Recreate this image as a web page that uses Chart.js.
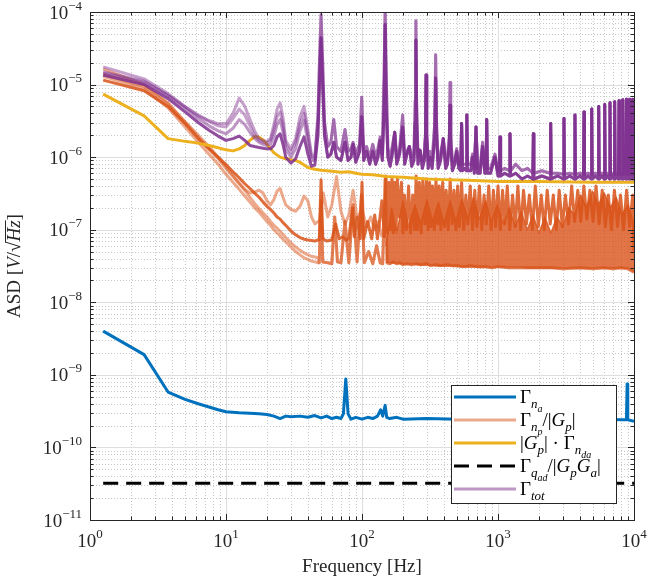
<!DOCTYPE html>
<html>
<head>
<meta charset="utf-8">
<script src="https://cdn.jsdelivr.net/npm/chart.js@4.4.1/dist/chart.umd.min.js"></script>
<style>
  html, body { margin: 0; padding: 0; background: #fff; }
  canvas { display: block; }
</style>
</head>
<body>
<canvas id="asd" width="648" height="582"></canvas>
<script>
// ---- data (Hz, V/sqrt(Hz)) ----
const freqLo = [1.25, 2.5, 3.75, 5, 6.25, 7.5, 8.75, 10, 11.25, 12.5,
  13.75, 15, 16.25, 17.5, 18.75, 20, 21.25, 22.5, 23.75, 25,
  26.25, 27.5, 30, 32.5, 35, 37.5, 40, 42.5, 45, 47.5];

// Gamma_na (blue)
const freqNa = [1.25, 2.5, 3.75, 5, 6.25, 7.5, 8.75, 10, 12.5, 15,
  17.5, 20, 22.5, 25, 27.5, 30, 35, 40, 45, 50,
  55, 60, 65, 70, 73, 76, 79, 83, 90, 100,
  110, 120, 130, 137, 142, 148, 152, 160, 180, 200,
  300, 500, 1000, 2000, 4000, 8000, 8800, 8900, 9000, 10000];
const gammaNa = [4.0e-9, 1.9e-9, 5.8e-10, 4.6e-10, 4.0e-10, 3.6e-10, 3.3e-10, 3.1e-10, 3.0e-10, 2.95e-10,
  2.9e-10, 2.85e-10, 2.7e-10, 2.5e-10, 2.7e-10, 2.65e-10, 2.7e-10, 2.6e-10, 2.75e-10, 2.55e-10,
  2.7e-10, 2.5e-10, 2.6e-10, 2.5e-10, 2.9e-10, 8.8e-10, 2.9e-10, 2.45e-10, 2.6e-10, 2.45e-10,
  2.6e-10, 2.5e-10, 2.7e-10, 3.3e-10, 2.7e-10, 3.8e-10, 2.6e-10, 2.5e-10, 2.6e-10, 2.45e-10,
  2.5e-10, 2.45e-10, 2.5e-10, 2.4e-10, 2.45e-10, 2.4e-10, 2.4e-10, 7.5e-10, 2.4e-10, 2.3e-10];

// |Gp| * Gamma_nda (yellow)
const freqNda = [1.25, 2.5, 3.75, 5, 6.25, 7.5, 8.75, 10, 11.25, 12.5,
  13.75, 15, 16.25, 17.5, 18.75, 20, 22.5, 25, 27.5, 30,
  32.5, 35, 37.5, 40, 45, 50, 60, 70, 80, 90,
  100, 120, 150, 200, 300, 400, 600, 1000, 2000, 5000, 10000];
const gammaNda = [7.4e-6, 3.7e-6, 1.8e-6, 1.65e-6, 1.56e-6, 1.45e-6, 1.35e-6, 1.26e-6, 1.22e-6, 1.3e-6,
  1.45e-6, 1.7e-6, 1.92e-6, 1.88e-6, 1.72e-6, 1.5e-6, 1.15e-6, 1.0e-6, 9.5e-7, 9.2e-7,
  9.0e-7, 8.5e-7, 7.8e-7, 7.2e-7, 6.8e-7, 6.6e-7, 6.4e-7, 6.2e-7, 6.3e-7, 6.0e-7,
  5.8e-7, 5.7e-7, 5.4e-7, 5.3e-7, 5.0e-7, 4.9e-7, 4.8e-7, 4.6e-7, 4.6e-7, 4.5e-7, 4.5e-7];

// Gamma_qad / |Gp Ga| (black dashed)
const freqQad = [1.25, 10000];
const gammaQad = [3.2e-11, 3.2e-11];

// Gamma_np / |Gp| (orange) - low frequency part, four measurements
const npLo1 = [1.15e-5, 8.2e-6, 5.0e-6, 2.9e-6, 1.8e-6, 1.3e-6, 1.0e-6, 7.9e-7, 6.3e-7, 5.2e-7,
  4.3e-7, 3.7e-7, 3.2e-7, 2.8e-7, 2.4e-7, 2.1e-7, 1.9e-7, 1.7e-7, 1.5e-7, 1.4e-7,
  1.25e-7, 1.15e-7, 9.6e-8, 8.5e-8, 7.8e-8, 7.4e-8, 7.2e-8, 7.1e-8, 7.0e-8, 7.2e-8];
const npLo2 = [1.3e-5, 8.8e-6, 4.8e-6, 2.6e-6, 1.6e-6, 1.1e-6, 8e-7, 5.8e-7, 4.5e-7, 3.6e-7,
  2.9e-7, 2.4e-7, 2.0e-7, 1.75e-7, 1.5e-7, 1.3e-7, 1.15e-7, 1.0e-7, 9e-8, 8.2e-8,
  7.4e-8, 6.8e-8, 5.8e-8, 5e-8, 4.5e-8, 4.1e-8, 3.9e-8, 3.7e-8, 3.6e-8, 3.5e-8];
const npLo3 = [1.65e-5, 1.0e-5, 5.6e-6, 3.0e-6, 1.9e-6, 1.3e-6, 9.5e-7, 7e-7, 5.4e-7, 4.3e-7,
  3.6e-7, 3.2e-7, 3.3e-7, 3.5e-7, 3.2e-7, 2.5e-7, 2.2e-7, 2.6e-7, 3.4e-7, 3.7e-7,
  2.8e-7, 2.2e-7, 1.9e-7, 1.8e-7, 2.1e-7, 2.9e-7, 2.5e-7, 1.5e-7, 1.2e-7, 1.3e-7];
const npLo4 = [1.4e-5, 9.5e-6, 5.4e-6, 3.1e-6, 2.0e-6, 1.4e-6, 1.0e-6, 7.4e-7, 5.6e-7, 4.4e-7,
  3.5e-7, 2.8e-7, 2.3e-7, 1.95e-7, 1.7e-7, 1.5e-7, 1.3e-7, 1.15e-7, 1.05e-7, 9.5e-8,
  8.6e-8, 7.8e-8, 6.6e-8, 5.8e-8, 5.2e-8, 4.8e-8, 4.5e-8, 4.3e-8, 4.2e-8, 4.1e-8];

// orange - high frequency parts
const freqNpA = [48.5, 50, 51.5, 55, 60, 64, 68, 72, 76, 80,
  85, 88, 92, 97, 100, 103, 110, 118, 124, 130,
  140, 146, 150, 154, 158, 162, 166, 170, 174, 178,
  182, 188, 195, 200, 205, 212, 220, 228, 236, 244,
  250, 256, 264, 272, 280, 290, 298, 306, 314, 322,
  330, 340, 350, 360, 370, 380, 392, 404, 416, 430,
  445, 460, 475, 490, 505, 520, 540, 560, 580, 600,
  625, 650, 675, 700, 730, 760, 790, 820, 855, 890,
  925, 960, 1000, 1040, 1080, 1120, 1170, 1220, 1280, 1340,
  1400, 1470, 1540, 1620, 1700, 1790, 1880, 1980, 2080, 2190,
  2300, 2420, 2550, 2680, 2820, 2970, 3130, 3300, 3480, 3660,
  3860, 4060, 4280, 4500, 4740, 5000, 5260, 5540, 5840, 6150,
  6480, 6820, 7180, 7560, 7960, 8380, 8820, 9290, 9780, 10000];
const npHiA = [7.2e-8, 4.9e-7, 7.5e-8, 7.0e-8, 7.2e-8, 1.2e-7, 7.5e-8, 8e-8, 7.2e-8, 7.5e-8,
  2.0e-7, 8e-8, 1.5e-7, 7.5e-8, 4.5e-7, 7.5e-8, 1.3e-7, 7.5e-8, 1.6e-7, 7.5e-8,
  2.5e-7, 8e-8, 5.5e-7, 9e-8, 4.5e-7, 1e-7, 5e-7, 9e-8, 4.5e-7, 1e-7,
  5e-7, 1.5e-7, 4.5e-7, 9e-8, 3e-7, 1e-7, 4e-7, 9e-8, 3e-7, 1e-7,
  5.5e-7, 1e-7, 4.5e-7, 9e-8, 5e-7, 1.2e-7, 5e-7, 1e-7, 4.5e-7, 1.1e-7,
  4e-7, 1e-7, 5e-7, 1.2e-7, 4e-7, 1e-7, 4.5e-7, 1.1e-7, 3.5e-7, 1e-7,
  5e-7, 1.2e-7, 3.5e-7, 1e-7, 4e-7, 1.1e-7, 4.5e-7, 1e-7, 3e-7, 1.2e-7,
  4e-7, 1e-7, 3.5e-7, 1.1e-7, 4e-7, 1e-7, 3e-7, 1.2e-7, 4e-7, 1e-7,
  3.5e-7, 1.1e-7, 4e-7, 1e-7, 3.5e-7, 1.2e-7, 4e-7, 1e-7, 3e-7, 1.1e-7,
  4e-7, 1e-7, 3.5e-7, 1.2e-7, 3e-7, 1e-7, 4e-7, 1.1e-7, 3e-7, 1e-7,
  3.5e-7, 1.2e-7, 3e-7, 1e-7, 3.5e-7, 1.1e-7, 3e-7, 1.2e-7, 4e-7, 1.3e-7,
  3.5e-7, 1.3e-7, 4e-7, 1.4e-7, 3.5e-7, 1.3e-7, 4e-7, 1.2e-7, 3.5e-7, 1.1e-7,
  3e-7, 1e-7, 3.5e-7, 1.1e-7, 3e-7, 1e-7, 3.5e-7, 1.1e-7, 3e-7, 5e-8];

const freqNpB = [48.5, 50, 51.5, 56, 60, 63, 66, 70, 75, 80,
  86, 92, 99, 104, 112, 120, 128, 136, 142, 148,
  153, 160, 170, 180, 190, 200, 215, 230, 250, 270,
  295, 320, 350, 380, 420, 460, 500, 560, 620, 700,
  800, 900, 1000, 1200, 1500, 2000, 2500, 3000, 4000, 5000,
  6000, 7000, 8000, 9000, 10000];
const npHiB = [3.5e-8, 2.5e-7, 3.6e-8, 3.5e-8, 3.4e-8, 1.5e-7, 3.6e-8, 3.5e-8, 1.3e-7, 3.5e-8,
  2.2e-7, 3.6e-8, 3.0e-7, 3.5e-8, 5e-8, 3.4e-8, 6e-8, 3.5e-8, 3.4e-8, 5e-7,
  3.5e-8, 3.4e-8, 3.6e-8, 3.4e-8, 3.5e-8, 3.3e-8, 3.4e-8, 3.3e-8, 3.4e-8, 3.3e-8,
  3.4e-8, 3.2e-8, 3.3e-8, 3.2e-8, 3.3e-8, 3.2e-8, 3.2e-8, 3.1e-8, 3.2e-8, 3.1e-8,
  3.1e-8, 3.0e-8, 3.1e-8, 3.0e-8, 3.0e-8, 3.0e-8, 3.0e-8, 2.9e-8, 3.0e-8, 2.9e-8,
  3.0e-8, 2.9e-8, 3.0e-8, 2.9e-8, 2.6e-8];

const freqNpC = [48.5, 52, 56, 60, 65, 70, 75, 80, 86, 92,
  100, 108, 116, 124, 132, 140];
const npHiC = [1.3e-7, 3.2e-7, 1.5e-7, 2.2e-7, 5.4e-7, 1.8e-7, 1.2e-7, 1.6e-7, 3.5e-7, 1.4e-7,
  1.9e-7, 1.1e-7, 1.5e-7, 1.0e-7, 1.3e-7, 8e-8];

// dense orange region: envelope of the many overlapping traces
const freqBand = [150, 165, 180, 200, 220, 245, 270, 300, 330, 365,
  400, 445, 490, 540, 600, 660, 730, 810, 890, 990,
  1100, 1210, 1340, 1480, 1640, 1810, 2000, 2210, 2450, 2710,
  3000, 3310, 3660, 4050, 4480, 4950, 5470, 6050, 6690, 7390,
  8170, 9030, 10000];
const bandTop = [6e-8, 2e-7, 9e-8, 2.5e-7, 1.1e-7, 2.2e-7, 1.2e-7, 2.6e-7, 1.3e-7, 2.4e-7,
  1.2e-7, 2.5e-7, 1.3e-7, 2.6e-7, 1.4e-7, 2.8e-7, 1.4e-7, 2.5e-7, 1.3e-7, 2.2e-7,
  1.2e-7, 2e-7, 1.1e-7, 1.8e-7, 1.0e-7, 1.6e-7, 9e-8, 1.5e-7, 9e-8, 1.5e-7,
  1.1e-7, 2e-7, 1.6e-7, 3e-7, 2e-7, 3.4e-7, 2.2e-7, 3.2e-7, 2e-7, 2.8e-7,
  1.6e-7, 2.2e-7, 1.2e-7];
const bandLow = [3.5e-8, 3.4e-8, 3.4e-8, 3.3e-8, 3.3e-8, 3.3e-8, 3.2e-8, 3.2e-8, 3.2e-8, 3.1e-8,
  3.1e-8, 3.1e-8, 3.1e-8, 3.0e-8, 3.0e-8, 3.0e-8, 3.0e-8, 3.0e-8, 3.0e-8, 3.0e-8,
  3.0e-8, 3.0e-8, 3.0e-8, 3.0e-8, 2.9e-8, 2.9e-8, 2.9e-8, 2.9e-8, 2.9e-8, 2.9e-8,
  2.9e-8, 2.9e-8, 2.9e-8, 2.9e-8, 2.9e-8, 2.9e-8, 2.9e-8, 2.9e-8, 2.9e-8, 2.9e-8,
  2.9e-8, 2.9e-8, 2.6e-8];

// Gamma_tot (purple) - low frequency part, four measurements
const totLo1 = [1.35e-5, 1.0e-5, 6.4e-6, 4.2e-6, 3.0e-6, 2.35e-6, 1.95e-6, 1.7e-6, 1.8e-6, 1.95e-6,
  1.7e-6, 1.45e-6, 1.4e-6, 1.36e-6, 1.33e-6, 1.3e-6, 1.3e-6, 1.45e-6, 1.9e-6, 2.1e-6,
  1.5e-6, 1.0e-6, 8.3e-7, 9.5e-7, 1.4e-6, 1.9e-6, 1.1e-6, 7.5e-7, 7.8e-7, 2.0e-6];
const totLo2 = [1.45e-5, 1.08e-5, 7.0e-6, 4.7e-6, 3.4e-6, 2.7e-6, 2.3e-6, 2.1e-6, 2.5e-6, 3.3e-6,
  2.8e-6, 2.2e-6, 1.8e-6, 1.6e-6, 1.5e-6, 1.45e-6, 1.5e-6, 1.9e-6, 2.8e-6, 3.3e-6,
  2.2e-6, 1.3e-6, 1.0e-6, 1.3e-6, 2.3e-6, 3.2e-6, 1.6e-6, 9e-7, 9e-7, 3e-6];
const totLo3 = [1.75e-5, 1.2e-5, 7.5e-6, 5.0e-6, 3.8e-6, 3.2e-6, 2.9e-6, 2.9e-6, 4.0e-6, 6.5e-6,
  5.0e-6, 3.3e-6, 2.3e-6, 1.8e-6, 1.7e-6, 1.65e-6, 1.8e-6, 2.8e-6, 4.6e-6, 5.6e-6,
  3.5e-6, 1.7e-6, 1.3e-6, 1.8e-6, 3.6e-6, 5.0e-6, 2.4e-6, 1.1e-6, 1.0e-6, 4e-6];
const totLo4 = [1.5e-5, 1.12e-5, 7.2e-6, 4.9e-6, 3.7e-6, 3.1e-6, 2.7e-6, 2.6e-6, 3.4e-6, 4.6e-6,
  3.8e-6, 2.7e-6, 2.0e-6, 1.7e-6, 1.6e-6, 1.55e-6, 1.7e-6, 2.4e-6, 3.6e-6, 4.2e-6,
  2.8e-6, 1.5e-6, 1.15e-6, 1.6e-6, 2.9e-6, 4.0e-6, 2.0e-6, 1.0e-6, 9.5e-7, 3.5e-6];

// purple - high frequency part (spikes)
const freqTotHi = [48.8, 50, 51.2, 53, 56, 59, 62, 65, 70, 75,
  79, 83, 86, 90, 96, 99.5, 103, 108, 114, 120,
  126, 131, 136, 141, 145.5, 148, 150.5, 155, 161, 167,
  174, 180, 189, 199, 206, 214, 223, 232, 241, 246,
  249, 252, 258, 267, 278, 287, 293, 296, 299, 307,
  316, 328, 343, 348, 353, 363, 378, 396, 412, 425,
  439, 444, 449, 462, 480, 497, 515, 532, 540, 548,
  570, 584, 590, 596, 630, 650, 670, 689, 708, 740,
  770, 800, 816, 826, 836, 880, 950, 1000, 1025, 1035,
  1045, 1120, 1212, 1225, 1238, 1350, 1500, 1650, 1805, 1820,
  1835, 2100, 2420, 2440, 2460, 2750, 3030, 3055, 3080, 3370,
  3650, 3680, 3710, 4000, 4255, 4290, 4325, 4600, 4845, 4885,
  4925, 5200, 5455, 5500, 5545, 5800, 6040, 6090, 6140, 6380,
  6605, 6660, 6715, 6940, 7150, 7210, 7270, 7480, 7695, 7760,
  7825, 8010, 8190, 8260, 8330, 8520, 8715, 8790, 8865, 9050,
  9220, 9300, 9380, 9540, 9700, 9780, 9860, 10000];
const totHiDark = [1.2e-5, 4.4e-5, 1.2e-5, 2.0e-6, 1.0e-6, 1.1e-6, 1.6e-6, 1.0e-6, 9e-7, 1.6e-6,
  9e-7, 1.0e-6, 1.5e-6, 8.5e-7, 1.2e-6, 3.6e-6, 9e-7, 1.2e-6, 8e-7, 1.2e-6,
  8e-7, 1.0e-6, 1.7e-6, 9e-7, 5e-6, 6.7e-5, 5e-6, 1.0e-6, 7.5e-7, 1.1e-6,
  2.2e-6, 8e-7, 1.1e-6, 2.6e-6, 8e-7, 1.1e-6, 1.4e-6, 7.5e-7, 9e-7, 3e-6,
  4.1e-5, 3e-6, 8e-7, 1.25e-6, 7e-7, 9e-7, 2e-6, 1.36e-5, 2e-6, 7e-7,
  1.0e-6, 7e-7, 2e-6, 1.23e-5, 2e-6, 7e-7, 9e-7, 1.8e-6, 7e-7, 8e-7,
  1.5e-6, 5.2e-6, 1.5e-6, 6.5e-7, 8e-7, 1.2e-6, 7e-7, 6.5e-7, 2.9e-6, 6.5e-7,
  7e-7, 6.5e-7, 3.8e-6, 6.5e-7, 6.5e-7, 1.0e-6, 6e-7, 2.6e-6, 6e-7, 6e-7,
  1.4e-6, 6e-7, 6e-7, 3.3e-6, 6e-7, 6e-7, 1.0e-6, 5.5e-7, 5.5e-7, 1.9e-6,
  5.5e-7, 6e-7, 5.5e-7, 2.1e-6, 5.5e-7, 6e-7, 5e-7, 5.5e-7, 5e-7, 2.1e-6,
  5e-7, 5.5e-7, 5e-7, 2.9e-6, 5e-7, 5.5e-7, 5e-7, 3.4e-6, 5e-7, 5.5e-7,
  5e-7, 3.8e-6, 5e-7, 5.5e-7, 5e-7, 4.2e-6, 5e-7, 5.5e-7, 5e-7, 4.6e-6,
  5e-7, 5.5e-7, 5e-7, 5.0e-6, 5e-7, 5.5e-7, 5e-7, 5.3e-6, 5e-7, 5.5e-7,
  5e-7, 5.6e-6, 5e-7, 5.5e-7, 5e-7, 5.8e-6, 5e-7, 5.5e-7, 5e-7, 6.0e-6,
  5e-7, 5.5e-7, 5e-7, 6.2e-6, 5e-7, 5.5e-7, 5e-7, 6.3e-6, 5e-7, 5.5e-7,
  5e-7, 6.3e-6, 5e-7, 5.5e-7, 5e-7, 6.3e-6, 5e-7, 5e-7];
const totHiLight = [2.5e-5, 9.2e-5, 2.5e-5, 3.0e-6, 1.4e-6, 1.6e-6, 3.3e-6, 1.4e-6, 1.2e-6, 2.4e-6,
  1.2e-6, 1.3e-6, 1.6e-6, 1.1e-6, 1.5e-6, 6.7e-6, 1.2e-6, 1.4e-6, 1.0e-6, 1.5e-6,
  1.0e-6, 1.3e-6, 1.9e-6, 1.1e-6, 1.5e-5, 1.2e-4, 1.5e-5, 1.3e-6, 1.0e-6, 1.4e-6,
  2.2e-6, 1.0e-6, 1.3e-6, 3.8e-6, 1.0e-6, 1.2e-6, 1.4e-6, 1.0e-6, 1.1e-6, 6e-6,
  7.6e-5, 6e-6, 1.0e-6, 1.25e-6, 9e-7, 1.0e-6, 2e-6, 1.36e-5, 2e-6, 9e-7,
  1.2e-6, 9e-7, 3e-6, 2.57e-5, 3e-6, 9e-7, 1.1e-6, 1.8e-6, 9e-7, 1.0e-6,
  2e-6, 1.07e-5, 2e-6, 8.5e-7, 9e-7, 1.3e-6, 8e-7, 8e-7, 2.9e-6, 8e-7,
  8e-7, 8e-7, 3.8e-6, 8e-7, 8e-7, 1.1e-6, 7e-7, 2.6e-6, 7e-7, 7.5e-7,
  1.6e-6, 7e-7, 7e-7, 3.3e-6, 7e-7, 7e-7, 1.1e-6, 6.5e-7, 6.5e-7, 1.9e-6,
  6.5e-7, 7e-7, 6.5e-7, 2.1e-6, 6.5e-7, 8e-7, 6.5e-7, 7e-7, 6e-7, 2.1e-6,
  6e-7, 6.5e-7, 6e-7, 2.9e-6, 6e-7, 6e-7, 5.8e-7, 3.4e-6, 5.8e-7, 6e-7,
  5.8e-7, 3.8e-6, 5.8e-7, 6e-7, 5.8e-7, 4.2e-6, 5.8e-7, 6e-7, 5.8e-7, 4.6e-6,
  5.8e-7, 6e-7, 5.8e-7, 5.0e-6, 5.8e-7, 6e-7, 5.8e-7, 5.3e-6, 5.8e-7, 6e-7,
  5.8e-7, 5.6e-6, 5.8e-7, 6e-7, 5.8e-7, 5.8e-6, 5.8e-7, 6e-7, 5.8e-7, 6.0e-6,
  5.8e-7, 6e-7, 5.8e-7, 6.2e-6, 5.8e-7, 6e-7, 5.8e-7, 6.3e-6, 5.8e-7, 6e-7,
  5.8e-7, 6.3e-6, 5.8e-7, 6e-7, 5.8e-7, 6.3e-6, 5.8e-7, 5.5e-7];

// axes ticks
const xMajor = [1, 10, 100, 1000, 10000];
const xTickExp = ['0', '1', '2', '3', '4'];
const yMajor = [1e-11, 1e-10, 1e-9, 1e-8, 1e-7, 1e-6, 1e-5, 1e-4];
const yTickExp = ['\u221211', '\u221210', '\u22129', '\u22128', '\u22127', '\u22126', '\u22125', '\u22124'];
const minorMant = [2, 3, 4, 5, 6, 7, 8, 9];

// ---- helpers ----
const SERIF = '"Liberation Serif", "DejaVu Serif", serif';
const pts = (fs, vs) => fs.map((f, i) => ({ x: f, y: vs[i] }));

const BLUE = '#0072BD';
const YELLOW = '#EDB120';
const orange = a => `rgba(217,83,25,${a})`;
const purple = a => `rgba(126,47,142,${a})`;

function line(label, data, color, extra) {
  return Object.assign({
    label, data, borderColor: color, backgroundColor: color,
    borderWidth: 3, pointRadius: 0, fill: false, clip: 0
  }, extra || {});
}

// first dataset is drawn on top
const datasets = [
  line('tot1', pts(freqLo.concat(freqTotHi), totLo1.concat(totHiDark)), purple(0.85)),
  line('tot2', pts(freqLo.concat(freqTotHi), totLo2.concat(totHiDark)), purple(0.5)),
  line('tot3', pts(freqLo.concat(freqTotHi), totLo3.concat(totHiLight)), purple(0.45)),
  line('tot4', pts(freqLo.concat(freqTotHi), totLo4.concat(totHiLight)), purple(0.45)),
  line('qad', pts(freqQad, gammaQad), '#000', { borderDash: [15, 8] }),
  line('nda', pts(freqNda, gammaNda), YELLOW),
  line('np1', pts(freqLo.concat(freqNpA), npLo1.concat(npHiA)), orange(0.85)),
  line('np2', pts(freqLo.concat(freqNpB), npLo2.concat(npHiB)), orange(0.5)),
  line('np3', pts(freqLo.concat(freqNpC), npLo3.concat(npHiC)), orange(0.5)),
  line('np4', pts(freqLo.concat(freqNpB), npLo4.concat(npHiB)), orange(0.5)),
  line('bandTop', pts(freqBand, bandTop), orange(0.8), { borderWidth: 1.5, fill: '+1', backgroundColor: orange(0.8) }),
  line('bandLow', pts(freqBand, bandLow), 'rgba(0,0,0,0)', { borderWidth: 1 }),
  line('na', pts(freqNa, gammaNa), BLUE)
];

function setFont(ctx, size, italic) {
  ctx.font = (italic ? 'italic ' : '') + size + 'px ' + SERIF;
}
// runs: [text, size, dy, italic]
function runsWidth(ctx, runs) {
  let w = 0;
  for (const r of runs) { setFont(ctx, r[1], r[3]); w += ctx.measureText(r[0]).width; }
  return w;
}
function drawRuns(ctx, x, y, runs) {
  const pos = [];
  for (const r of runs) {
    setFont(ctx, r[1], r[3]);
    ctx.fillText(r[0], x, y + r[2]);
    const w = ctx.measureText(r[0]).width;
    pos.push([x, w]);
    x += w;
  }
  return pos;
}

const legendItems = [
  { color: BLUE, dash: [], runs: [['\u0393', 19, 0, false], ['n', 13, 5, true], ['a', 10, 9, true]] },
  { color: orange(0.5), dash: [], runs: [['\u0393', 19, 0, false], ['n', 13, 5, true], ['p', 10, 9, true],
    ['/|', 19, 0, false], ['G', 19, 0, true], ['p', 13, 5, true], ['|', 19, 0, false]] },
  { color: YELLOW, dash: [], runs: [['|', 19, 0, false], ['G', 19, 0, true], ['p', 13, 5, true],
    ['| \u00b7 \u0393', 19, 0, false], ['n', 13, 5, true], ['da', 10, 9, true]] },
  { color: '#000', dash: [15, 8], runs: [['\u0393', 19, 0, false], ['q', 13, 5, true], ['ad', 10, 9, true],
    ['/|', 19, 0, false], ['G', 19, 0, true], ['p', 13, 5, true], ['G', 19, 0, true], ['a', 13, 5, true], ['|', 19, 0, false]] },
  { color: purple(0.5), dash: [], runs: [['\u0393', 19, 0, false], ['tot', 13, 5, true]] }
];

const matlabAxes = {
  id: 'matlabAxes',
  beforeDatasetsDraw(chart) {
    const { ctx, chartArea: a, scales: { x, y } } = chart;
    ctx.save();
    ctx.lineWidth = 1;
    ctx.strokeStyle = '#c8c8c8';
    ctx.setLineDash([1, 2]);
    ctx.beginPath();
    for (let i = 0; i < xMajor.length - 1; i++) {
      for (const m of minorMant) {
        const px = Math.round(x.getPixelForValue(m * xMajor[i])) + 0.5;
        ctx.moveTo(px, a.top); ctx.lineTo(px, a.bottom);
      }
    }
    for (let i = 0; i < yMajor.length - 1; i++) {
      for (const m of minorMant) {
        const py = Math.round(y.getPixelForValue(m * yMajor[i])) + 0.5;
        ctx.moveTo(a.left, py); ctx.lineTo(a.right, py);
      }
    }
    ctx.stroke();
    ctx.setLineDash([]);
    ctx.strokeStyle = '#dedede';
    ctx.beginPath();
    for (const v of xMajor) {
      const px = Math.round(x.getPixelForValue(v)) + 0.5;
      ctx.moveTo(px, a.top); ctx.lineTo(px, a.bottom);
    }
    for (const v of yMajor) {
      const py = Math.round(y.getPixelForValue(v)) + 0.5;
      ctx.moveTo(a.left, py); ctx.lineTo(a.right, py);
    }
    ctx.stroke();
    ctx.restore();
  },
  afterDatasetsDraw(chart) {
    const { ctx, chartArea: a, scales: { x, y } } = chart;
    ctx.save();
    const ink = '#262626';
    ctx.strokeStyle = ink;
    ctx.lineWidth = 1;
    // tick marks, inside, all four sides
    ctx.beginPath();
    const tickX = (v, len) => {
      const px = Math.round(x.getPixelForValue(v)) + 0.5;
      ctx.moveTo(px, a.bottom); ctx.lineTo(px, a.bottom - len);
      ctx.moveTo(px, a.top); ctx.lineTo(px, a.top + len);
    };
    const tickY = (v, len) => {
      const py = Math.round(y.getPixelForValue(v)) + 0.5;
      ctx.moveTo(a.left, py); ctx.lineTo(a.left + len, py);
      ctx.moveTo(a.right, py); ctx.lineTo(a.right - len, py);
    };
    xMajor.forEach(v => tickX(v, 6));
    yMajor.forEach(v => tickY(v, 6));
    for (let i = 0; i < xMajor.length - 1; i++) minorMant.forEach(m => tickX(m * xMajor[i], 3.5));
    for (let i = 0; i < yMajor.length - 1; i++) minorMant.forEach(m => tickY(m * yMajor[i], 3.5));
    ctx.stroke();
    // box
    ctx.strokeRect(Math.round(a.left) + 0.5, Math.round(a.top) + 0.5,
      Math.round(a.right - a.left), Math.round(a.bottom - a.top));

    // tick labels
    ctx.fillStyle = ink;
    ctx.textBaseline = 'alphabetic';
    xMajor.forEach((v, i) => {
      const runs = [['10', 19, 0, false], [xTickExp[i], 13, -9, false]];
      const w = runsWidth(ctx, runs);
      drawRuns(ctx, x.getPixelForValue(v) - w / 2, a.bottom + 27, runs);
    });
    yMajor.forEach((v, i) => {
      const runs = [['10', 19, 0, false], [yTickExp[i], 13, -9, false]];
      const w = runsWidth(ctx, runs);
      drawRuns(ctx, a.left - 8 - w, y.getPixelForValue(v) + 6.5, runs);
    });

    // axis titles
    const xt = [['Frequency [Hz]', 19, 0, false]];
    drawRuns(ctx, (a.left + a.right) / 2 - runsWidth(ctx, xt) / 2, a.bottom + 52, xt);

    ctx.save();
    ctx.translate(14, (a.top + a.bottom) / 2);
    ctx.rotate(-Math.PI / 2);
    const yt = [['ASD [', 19, 0, false], ['V', 19, 0, true], ['/', 19, 0, false],
      ['\u221a', 19, 0, false], ['Hz', 19, 0, true], [']', 19, 0, false]];
    const pos = drawRuns(ctx, -runsWidth(ctx, yt) / 2, 6, yt);
    ctx.beginPath();
    ctx.lineWidth = 1;
    ctx.moveTo(pos[3][0] + pos[3][1] - 1, -8.5);
    ctx.lineTo(pos[4][0] + pos[4][1], -8.5);
    ctx.stroke();
    ctx.restore();

    // legend
    const box = { left: a.right - 183, top: a.bottom - 135, w: 165, h: 118 };
    ctx.fillStyle = '#fff';
    ctx.fillRect(box.left, box.top, box.w, box.h);
    ctx.strokeStyle = ink;
    ctx.lineWidth = 1;
    ctx.strokeRect(Math.round(box.left) + 0.5, Math.round(box.top) + 0.5, box.w, box.h);
    legendItems.forEach((it, i) => {
      const cy = box.top + 12 + i * 23;
      ctx.beginPath();
      ctx.strokeStyle = it.color;
      ctx.lineWidth = 3;
      ctx.setLineDash(it.dash);
      ctx.moveTo(box.left + 3, cy);
      ctx.lineTo(box.left + 65, cy);
      ctx.stroke();
      ctx.setLineDash([]);
      ctx.fillStyle = '#000';
      drawRuns(ctx, box.left + 69, cy + 6, it.runs);
    });
    ctx.restore();
  }
};

new Chart(document.getElementById('asd').getContext('2d'), {
  type: 'line',
  data: { datasets },
  options: {
    responsive: false,
    animation: false,
    layout: { padding: { left: 90, right: 14, top: 12, bottom: 62 } },
    scales: {
      x: { type: 'logarithmic', min: 1, max: 10000, display: false },
      y: { type: 'logarithmic', min: 1e-11, max: 1e-4, display: false }
    },
    elements: { line: { tension: 0, borderJoinStyle: 'round', borderCapStyle: 'butt' } },
    plugins: { legend: { display: false }, tooltip: { enabled: false } }
  },
  plugins: [matlabAxes]
});
</script>
</body>
</html>
